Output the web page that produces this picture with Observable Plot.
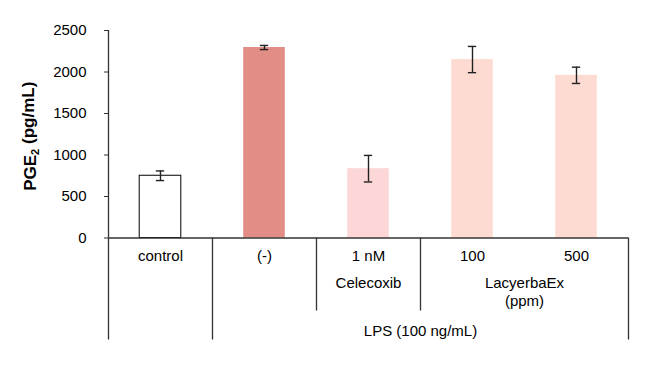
<!DOCTYPE html>
<html><head><meta charset="utf-8">
<script src="https://cdn.jsdelivr.net/npm/d3@7"></script>
<script src="https://cdn.jsdelivr.net/npm/@observablehq/plot@0.6"></script>
<style>body{margin:0;background:#fff}</style>
</head><body><div id="chart"></div>
<script>
// ---- data ----
const categories = ["control", "(-)", "1 nM", "100", "500"];
const means = [750, 2295, 835, 2150, 1960];
const errors = [58, 25, 160, 158, 98];
const yTicks = [0, 500, 1000, 1500, 2000, 2500];
const treatmentLabels = ["Celecoxib", "LacyerbaEx\n(ppm)"];
const treatmentSpans = [[2, 2], [3, 4]];
const stimulusLabels = ["LPS (100 ng/mL)"];
const stimulusSpans = [[1, 4]];
const controlSpan = [0, 0];
const yLabelParts = ["PGE", "2", " (pg/mL)"];
const barColors = ["#ffffff", "#e38d87", "#fdd7d8", "#fddbd2", "#fddbd2"];

// ---- derived tables ----
const bars = categories.map((c, i) => ({cat: c, i, mean: means[i], err: errors[i]}));
const outerGroups = [controlSpan, ...stimulusSpans];
const outerEdges = Array.from(new Set(outerGroups.flatMap(([a, b]) => [a - 0.5, b + 0.5])));
const innerGroups = [[1, 1], ...treatmentSpans];
const innerEdges = Array.from(new Set(innerGroups.flatMap(([a, b]) => [a - 0.5, b + 0.5])))
  .filter(e => !outerEdges.includes(e));
const treatments = treatmentLabels.map((t, k) => ({label: t, x: (treatmentSpans[k][0] + treatmentSpans[k][1]) / 2}));
const stimuli = stimulusLabels.map((t, k) => ({label: t, x: (stimulusSpans[k][0] + stimulusSpans[k][1]) / 2}));
const yLabel = yLabelParts.join("");

const chart = Plot.plot({
  width: 650,
  height: 367,
  marginLeft: 108,
  marginRight: 22,
  marginTop: 30,
  marginBottom: 129.5,
  style: {fontFamily: "'Liberation Sans', Arial, sans-serif", fontSize: "15px", color: "#000", background: "#fff"},
  x: {type: "linear", domain: [-0.5, categories.length - 0.5], axis: null},
  y: {domain: [0, 2500], axis: null},
  color: {domain: categories, range: barColors},
  marks: [
    Plot.axisY({ticks: yTicks, tickSize: 4, tickPadding: 18, label: null, tickFormat: d => String(d), fontSize: 15, stroke: "#333"}),
    Plot.rectY(bars, {x1: d => d.i - 0.2, x2: d => d.i + 0.2, y1: 0, y2: "mean", fill: "cat",
      stroke: d => d.i === 0 ? "#000" : "none", strokeWidth: 1}),
    Plot.ruleX(bars, {x: "i", y1: d => d.mean - d.err, y2: d => d.mean + d.err, stroke: "#222", strokeWidth: 1.4}),
    Plot.ruleY(bars, {y: d => d.mean - d.err, x1: d => d.i - 0.04, x2: d => d.i + 0.04, stroke: "#222", strokeWidth: 1.4}),
    Plot.ruleY(bars, {y: d => d.mean + d.err, x1: d => d.i - 0.04, x2: d => d.i + 0.04, stroke: "#222", strokeWidth: 1.4}),
    // y axis line
    Plot.ruleX([-0.5], {y1: 0, y2: 2500, stroke: "#333", strokeWidth: 1.3}),
    // baseline
    Plot.ruleY([0], {stroke: "#333", strokeWidth: 1.3}),
    // table separators
    Plot.ruleX(outerEdges, {x: d => d, y1: 0, y2: 0, insetBottom: -102, stroke: "#333", strokeWidth: 1.3}),
    Plot.ruleX(innerEdges, {x: d => d, y1: 0, y2: 0, insetBottom: -73, stroke: "#333", strokeWidth: 1.3}),
    // row labels
    Plot.text(bars, {x: "i", y: 0, text: "cat", dy: 18.5, lineAnchor: "middle", fontSize: 15, fill: "#000"}),
    Plot.text(treatments, {x: "x", y: 0, text: "label", dy: 37, lineAnchor: "top", lineHeight: 1.2, fontSize: 15, fill: "#000"}),
    Plot.text(stimuli, {x: "x", y: 0, text: "label", dy: 93.5, lineAnchor: "middle", fontSize: 15, fill: "#000"}),
    // y label
    Plot.text([yLabel], {frameAnchor: "left", textAnchor: "middle", rotate: -90, dx: -78, dy: 2, fontSize: 17, fontWeight: "bold", fill: "#000", lineAnchor: "middle"})
  ]
});

document.getElementById("chart").appendChild(chart);

// subscript in y label
d3.select(chart).selectAll("text").filter(function() { return this.textContent === yLabel; })
  .each(function() {
    const t = d3.select(this);
    t.text(null);
    t.append("tspan").text(yLabelParts[0]);
    t.append("tspan").attr("font-size", "11px").attr("dy", "0.3em").text(yLabelParts[1]);
    t.append("tspan").attr("dy", "-0.3em").text(yLabelParts[2]);
  });
</script>
</body></html>
